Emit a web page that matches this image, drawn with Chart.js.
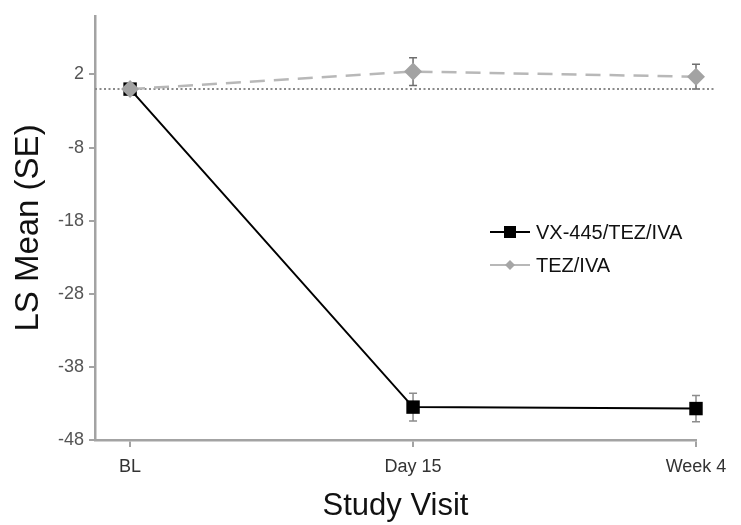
<!DOCTYPE html>
<html>
<head>
<meta charset="utf-8">
<script src="https://cdn.jsdelivr.net/npm/chart.js@4"></script>
<style>
  html, body { margin: 0; padding: 0; background: #fff; }
  #wrap { width: 741px; height: 525px; }
</style>
</head>
<body>
<div id="wrap"><canvas id="lsChart"></canvas></div>
<script>
// data
const visits = ['BL', 'Day 15', 'Week 4'];
const vxMean = [0, -43.5, -43.7];
const vxSE = [0, 1.9, 1.8];
const tezMean = [0, 2.4, 1.7];
const tezSE = [0, 1.9, 1.7];
const yTicks = [2, -8, -18, -28, -38, -48];

const axisGray = '#a3a3a3';
const tickFont = { family: 'Liberation Sans, Arial, sans-serif', size: 18 };

// error bars
const errorBars = {
  id: 'errorBars',
  beforeDatasetsDraw(chart) {
    const { ctx, scales: { x, y } } = chart;
    const sets = [
      { mean: vxMean, se: vxSE, color: '#8c8c8c' },
      { mean: tezMean, se: tezSE, color: '#6e6e6e' }
    ];
    ctx.save();
    sets.forEach(s => {
      s.mean.forEach((m, i) => {
        if (!s.se[i]) return;
        const px = x.getPixelForValue(i);
        const top = y.getPixelForValue(m + s.se[i]);
        const bot = y.getPixelForValue(m - s.se[i]);
        ctx.strokeStyle = s.color;
        ctx.lineWidth = 1.5;
        ctx.beginPath();
        ctx.moveTo(px, top); ctx.lineTo(px, bot);
        ctx.moveTo(px - 4, top); ctx.lineTo(px + 4, top);
        ctx.moveTo(px - 4, bot); ctx.lineTo(px + 4, bot);
        ctx.stroke();
      });
    });
    ctx.restore();
  }
};

// legend drawn inside the plot
const innerLegend = {
  id: 'innerLegend',
  afterDraw(chart) {
    const { ctx } = chart;
    const x0 = 490, rows = [232, 265];
    ctx.save();
    ctx.font = '20px Liberation Sans, Arial, sans-serif';
    ctx.textBaseline = 'middle';
    // VX-445/TEZ/IVA
    ctx.strokeStyle = '#000';
    ctx.lineWidth = 2;
    ctx.beginPath(); ctx.moveTo(x0, rows[0]); ctx.lineTo(x0 + 40, rows[0]); ctx.stroke();
    ctx.fillStyle = '#000';
    ctx.fillRect(x0 + 14, rows[0] - 6, 12, 12);
    ctx.fillStyle = '#111';
    ctx.fillText(chart.data.datasets[0].label, x0 + 46, rows[0] + 1);
    // TEZ/IVA
    ctx.strokeStyle = '#b8b8b8';
    ctx.beginPath(); ctx.moveTo(x0, rows[1]); ctx.lineTo(x0 + 40, rows[1]); ctx.stroke();
    ctx.fillStyle = '#a6a6a6';
    ctx.beginPath();
    ctx.moveTo(x0 + 20, rows[1] - 5); ctx.lineTo(x0 + 25, rows[1]);
    ctx.lineTo(x0 + 20, rows[1] + 5); ctx.lineTo(x0 + 15, rows[1]);
    ctx.closePath(); ctx.fill();
    ctx.fillStyle = '#111';
    ctx.fillText(chart.data.datasets[1].label, x0 + 46, rows[1] + 1);
    ctx.restore();
  }
};

const ctx1 = document.getElementById('lsChart').getContext('2d');
const lsChart = new Chart(ctx1, {
  type: 'line',
  data: {
    datasets: [{
      label: 'VX-445/TEZ/IVA',
      data: vxMean.map((v, i) => ({ x: i, y: v })),
      borderColor: '#000',
      backgroundColor: '#000',
      borderWidth: 2,
      pointStyle: 'rect',
      pointRadius: 9.5,
      pointBorderWidth: 0,
      clip: 15,
      order: 1
    }, {
      label: 'TEZ/IVA',
      data: tezMean.map((v, i) => ({ x: i, y: v })),
      borderColor: '#b8b8b8',
      backgroundColor: '#a3a3a3',
      borderWidth: 2.5,
      borderDash: [15, 9],
      pointStyle: 'rectRot',
      pointRadius: 9,
      pointBorderWidth: 0,
      clip: 15,
      order: 0
    }, {
      label: 'zero',
      data: [{ x: -0.124, y: 0 }, { x: 2.07, y: 0 }],
      borderColor: '#8a8a8a',
      borderWidth: 2,
      borderDash: [2, 2.5],
      pointRadius: 0,
      clip: false,
      order: 2
    }]
  },
  options: {
    responsive: true,
    maintainAspectRatio: false,
    animation: false,
    layout: { padding: { top: 16, right: 45, left: 0, bottom: 0 } },
    scales: {
      x: {
        type: 'linear',
        min: -0.124,
        max: 2,
        afterBuildTicks: axis => { axis.ticks = [0, 1, 2].map(v => ({ value: v })); },
        afterFit: axis => { axis.height = 85; },
        ticks: {
          callback: v => visits[v],
          color: '#333',
          font: tickFont,
          padding: 9,
          maxRotation: 0
        },
        grid: { drawOnChartArea: false, drawTicks: true, tickLength: 7, color: axisGray, lineWidth: 2 },
        border: { display: true, color: axisGray, width: 2.5 },
        title: {
          display: true,
          text: 'Study Visit',
          color: '#111',
          font: { family: 'Liberation Sans, Arial, sans-serif', size: 31 },
          padding: { top: 0, bottom: 0 }
        }
      },
      y: {
        min: -48,
        max: 10,
        afterBuildTicks: axis => { axis.ticks = yTicks.map(v => ({ value: v })); },
        afterFit: axis => { axis.width = 95; },
        ticks: {
          color: '#555',
          font: tickFont,
          padding: 5
        },
        grid: { drawOnChartArea: false, drawTicks: true, tickLength: 6, color: axisGray, lineWidth: 2 },
        border: { display: true, color: axisGray, width: 2.5 },
        title: {
          display: true,
          text: 'LS Mean (SE)',
          color: '#111',
          font: { family: 'Liberation Sans, Arial, sans-serif', size: 33 },
          padding: { top: 9, bottom: 0 }
        }
      }
    },
    plugins: {
      legend: { display: false },
      tooltip: { enabled: false }
    }
  },
  plugins: [errorBars, innerLegend]
});
</script>
</body>
</html>
